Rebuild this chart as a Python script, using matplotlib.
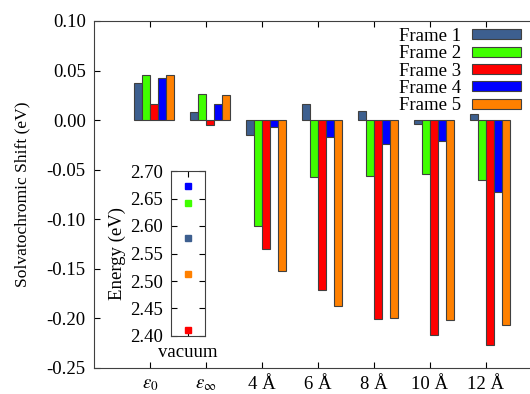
import numpy as np
import matplotlib
matplotlib.use("Agg")
import matplotlib.pyplot as plt

plt.rcParams['font.family'] = 'serif'
plt.rcParams['font.serif'] = ['Liberation Serif', 'DejaVu Serif']
plt.rcParams['mathtext.fontset'] = 'stix'
plt.rcParams['font.size'] = 13.5

# ---- data ----
categories = [r'$\varepsilon_0$', r'$\varepsilon_\infty$', '4 Å', '6 Å', '8 Å', '10 Å', '12 Å']
frames = ['Frame 1', 'Frame 2', 'Frame 3', 'Frame 4', 'Frame 5']
frame1 = [0.0377, 0.0087, -0.0145, 0.0158, 0.0090, -0.0040, 0.0057]
frame2 = [0.0457, 0.0266, -0.1070, -0.0575, -0.0560, -0.0540, -0.0600]
frame3 = [0.0165, -0.0054, -0.1300, -0.1715, -0.2010, -0.2170, -0.2270]
frame4 = [0.0424, 0.0161, -0.0067, -0.0168, -0.0240, -0.0210, -0.0720]
frame5 = [0.0457, 0.0252, -0.1520, -0.1870, -0.1995, -0.2020, -0.2070]
vacuum_energy = [2.578, 2.641, 2.410, 2.672, 2.513]  # frames 1..5
shift_ticks = [-0.25, -0.20, -0.15, -0.10, -0.05, 0.00, 0.05, 0.10]
shift_labels = ['-0.25', '-0.20', '-0.15', '-0.10', '-0.05', '0.00', '0.05', '0.10']
energy_ticks = [2.40, 2.45, 2.50, 2.55, 2.60, 2.65, 2.70]

colors = ['#3d5f8f', '#40ff00', '#ff0000', '#0000ff', '#ff8000']
series = [frame1, frame2, frame3, frame4, frame5]

W, H = 530, 394
fig = plt.figure(figsize=(W / 100, H / 100), dpi=100)
ax = fig.add_axes([94 / W, 26 / H, 448 / W, 347 / H])

x = np.arange(1, len(categories) + 1)
bw = 0.143
for i, (vals, c, name) in enumerate(zip(series, colors, frames)):
    ax.bar(x + (i - 2) * bw, vals, width=bw, align='edge', color=c,
           edgecolor='#404040', linewidth=0.8, label=name)

ax.set_xlim(0, 8)
ax.set_ylim(-0.25, 0.10)
ax.set_xticks(x)
ax.set_xticklabels(categories)
ax.set_yticks(shift_ticks)
ax.set_yticklabels(shift_labels)
ax.tick_params(direction='in', length=4, width=0.8, top=True, right=False, pad=6)
for s in ax.spines.values():
    s.set_color('#404040')
    s.set_linewidth(0.8)
ax.set_ylabel('Solvatochromic Shift (eV)', fontsize=12.6)
ax.yaxis.set_label_coords(-0.143, 0.5)

fig.legend(loc='upper right', bbox_to_anchor=(521 / W, 1 - 28 / H),
           frameon=False, markerfirst=False, labelspacing=0.02,
           handlelength=2.6, handleheight=0.45, handletextpad=0.6,
           borderpad=0, borderaxespad=0)

# ---- inset: vacuum energies ----
ins = fig.add_axes([171 / W, 58 / H, 34 / W, 165 / H])
for e, c in zip(vacuum_energy, colors):
    ins.plot([0], [e], 's', color=c, markersize=5)
ins.set_xlim(-1, 1)
ins.set_ylim(2.40, 2.70)
ins.set_xticks([0])
ins.set_xticklabels(['vacuum'])
ins.set_yticks(energy_ticks)
ins.set_yticklabels(['%.2f' % v for v in energy_ticks])
ins.tick_params(direction='in', length=4, width=0.8, top=True, right=True, pad=6)
for s in ins.spines.values():
    s.set_color('#404040')
    s.set_linewidth(0.8)
ins.set_ylabel('Energy (eV)', labelpad=3)

fig.savefig('out.png', dpi=100)
